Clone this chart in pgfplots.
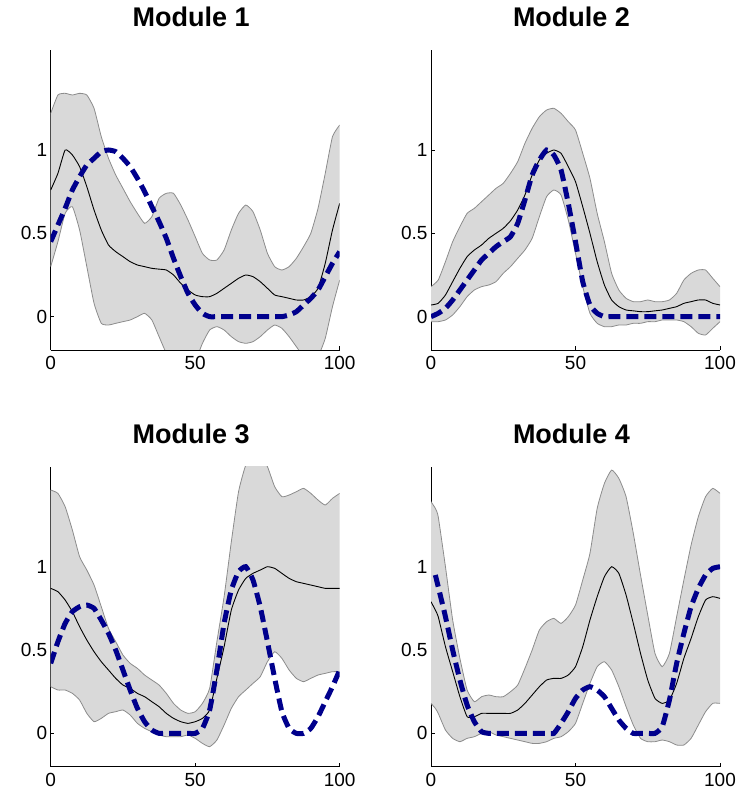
\documentclass[border=0pt]{standalone}
\usepackage{pgfplots}
\pgfplotsset{compat=1.18}
\usepackage{pgfplotstable}
\usepgfplotslibrary{fillbetween}
\usepackage{fontspec}
\setmainfont{Liberation Sans}
\definecolor{bandfill}{RGB}{217,217,217}
\definecolor{bandline}{RGB}{140,140,140}
\definecolor{synblue}{RGB}{0,0,140}

\pgfplotstableread{
x up lo mean syn
0 1.22 0.30 0.76 0.45
2.5 1.33 0.45 0.86 0.55
5 1.34 0.62 1.00 0.65
7.5 1.33 0.66 0.97 0.76
10 1.34 0.52 0.90 0.84
12.5 1.33 0.30 0.78 0.91
15 1.25 0.08 0.64 0.95
17.5 1.08 -0.04 0.52 0.99
20 0.95 -0.05 0.43 1.00
22.5 0.85 -0.04 0.39 0.99
25 0.77 -0.03 0.36 0.95
27.5 0.69 -0.02 0.33 0.90
30 0.62 0.00 0.31 0.83
32.5 0.56 0.02 0.30 0.75
35 0.60 -0.02 0.29 0.66
37.5 0.71 -0.12 0.285 0.57
40 0.74 -0.22 0.28 0.47
42.5 0.74 -0.30 0.25 0.35
45 0.67 -0.34 0.20 0.24
47.5 0.58 -0.33 0.16 0.14
50 0.48 -0.27 0.13 0.07
52.5 0.38 -0.16 0.12 0.02
55 0.34 -0.08 0.12 0.0
57.5 0.34 -0.06 0.14 0.0
60 0.40 -0.08 0.17 0.0
62.5 0.52 -0.12 0.20 0.0
65 0.62 -0.15 0.23 0.0
67.5 0.67 -0.16 0.25 0.0
70 0.63 -0.15 0.24 0.0
72.5 0.52 -0.12 0.21 0.0
75 0.38 -0.08 0.17 0.0
77.5 0.30 -0.05 0.13 0.0
80 0.28 -0.07 0.12 0.0
82.5 0.30 -0.12 0.11 0.01
85 0.35 -0.18 0.10 0.03
87.5 0.42 -0.24 0.10 0.07
90 0.50 -0.28 0.12 0.11
92.5 0.65 -0.24 0.17 0.16
95 0.86 -0.13 0.32 0.24
97.5 1.08 0.06 0.52 0.32
100 1.15 0.22 0.68 0.39
}\modA

\pgfplotstableread{
x up lo mean syn
0 0.18 -0.03 0.07 0.0
2.5 0.22 -0.03 0.08 0.02
5 0.33 -0.02 0.13 0.05
7.5 0.45 0.01 0.21 0.10
10 0.54 0.06 0.29 0.16
12.5 0.62 0.12 0.36 0.22
15 0.65 0.16 0.40 0.28
17.5 0.69 0.18 0.43 0.34
20 0.73 0.19 0.47 0.38
22.5 0.77 0.21 0.50 0.42
25 0.80 0.26 0.53 0.45
27.5 0.86 0.30 0.575 0.48
30 0.93 0.35 0.64 0.56
32.5 1.04 0.40 0.73 0.70
35 1.13 0.47 0.85 0.85
37.5 1.20 0.60 0.94 0.94
40 1.24 0.72 0.98 1.00
42.5 1.25 0.76 1.00 0.97
45 1.22 0.73 0.98 0.88
47.5 1.17 0.58 0.90 0.68
50 1.12 0.38 0.81 0.45
52.5 0.98 0.18 0.66 0.21
55 0.83 0.02 0.50 0.07
57.5 0.62 -0.04 0.33 0.02
60 0.45 -0.06 0.19 0.0
62.5 0.26 -0.06 0.10 0.0
65 0.16 -0.05 0.06 0.0
67.5 0.11 -0.05 0.04 0.0
70 0.09 -0.04 0.035 0.0
72.5 0.09 -0.04 0.03 0.0
75 0.10 -0.03 0.03 0.0
77.5 0.09 -0.03 0.035 0.0
80 0.09 -0.02 0.04 0.0
82.5 0.10 -0.02 0.05 0.0
85 0.14 -0.02 0.06 0.0
87.5 0.22 -0.03 0.08 0.0
90 0.26 -0.06 0.09 0.0
92.5 0.28 -0.10 0.10 0.0
95 0.28 -0.11 0.10 0.0
97.5 0.23 -0.07 0.08 0.0
100 0.18 -0.03 0.07 0.0
}\modB

\pgfplotstableread{
x up lo mean syn
0 1.46 0.28 0.87 0.42
2.5 1.44 0.26 0.85 0.55
5 1.36 0.26 0.80 0.66
7.5 1.22 0.24 0.73 0.73
10 1.06 0.20 0.64 0.76
12.5 0.98 0.12 0.56 0.77
15 0.89 0.07 0.49 0.75
17.5 0.76 0.09 0.43 0.68
20 0.63 0.12 0.38 0.60
22.5 0.55 0.13 0.33 0.50
25 0.47 0.14 0.29 0.38
27.5 0.42 0.11 0.27 0.26
30 0.39 0.06 0.24 0.15
32.5 0.35 0.03 0.22 0.07
35 0.32 0.01 0.19 0.02
37.5 0.29 -0.01 0.16 0.0
40 0.24 -0.02 0.12 0.0
42.5 0.18 -0.02 0.09 0.0
45 0.14 -0.02 0.07 0.0
47.5 0.12 -0.01 0.06 0.0
50 0.13 -0.03 0.07 0.0
52.5 0.18 -0.06 0.09 0.03
55 0.27 -0.08 0.14 0.14
57.5 0.55 -0.04 0.33 0.38
60 0.82 0.05 0.52 0.66
62.5 1.15 0.15 0.74 0.86
65 1.45 0.22 0.86 0.97
67.5 1.61 0.26 0.93 1.00
70 1.66 0.30 0.96 0.92
72.5 1.66 0.34 0.98 0.76
75 1.60 0.43 1.00 0.55
77.5 1.48 0.49 0.99 0.33
80 1.42 0.45 0.96 0.13
82.5 1.43 0.38 0.93 0.03
85 1.45 0.33 0.91 0.0
87.5 1.47 0.31 0.90 0.0
90 1.44 0.33 0.89 0.03
92.5 1.40 0.35 0.88 0.10
95 1.37 0.36 0.87 0.19
97.5 1.41 0.37 0.87 0.28
100 1.44 0.37 0.87 0.38
}\modC

\pgfplotstableread{
x up lo mean syn
0 1.39 0.18 0.79 nan
1.5 1.35 0.15 0.74 0.95
2.5 1.30 0.12 0.70 0.88
5 1.00 0.02 0.52 0.70
7.5 0.68 -0.03 0.37 0.50
10 0.45 -0.05 0.22 0.32
12.5 0.26 -0.03 0.10 0.17
15 0.19 -0.02 0.10 0.07
17.5 0.22 0.00 0.12 0.01
20 0.23 0.01 0.12 0.0
22.5 0.22 -0.01 0.12 0.0
25 0.22 -0.02 0.12 0.0
27.5 0.25 -0.03 0.12 0.0
30 0.29 -0.04 0.14 0.0
32.5 0.39 -0.05 0.18 0.0
35 0.50 -0.06 0.23 0.0
37.5 0.62 -0.06 0.28 0.0
40 0.67 -0.05 0.32 0.0
42.5 0.69 -0.03 0.33 0.0
45 0.66 -0.02 0.33 0.06
47.5 0.70 0.01 0.35 0.13
50 0.77 0.06 0.40 0.21
52.5 0.92 0.18 0.52 0.26
55 1.08 0.30 0.68 0.28
57.5 1.35 0.40 0.82 0.26
60 1.50 0.43 0.94 0.22
62.5 1.58 0.38 1.00 0.15
65 1.53 0.28 0.96 0.08
67.5 1.42 0.16 0.83 0.03
70 1.20 0.05 0.66 0.0
72.5 0.95 -0.03 0.48 0.0
75 0.71 -0.05 0.32 0.0
77.5 0.48 -0.05 0.21 0.0
80 0.40 -0.04 0.18 0.04
82.5 0.48 -0.05 0.20 0.20
85 0.70 -0.07 0.30 0.42
87.5 0.92 -0.07 0.45 0.60
90 1.13 -0.03 0.57 0.76
92.5 1.30 0.05 0.70 0.87
95 1.42 0.13 0.80 0.95
97.5 1.47 0.18 0.82 0.99
100 1.44 0.18 0.81 1.00
}\modD

\pgfplotsset{modstyle/.style={
  scale only axis, width=289pt, height=300pt,
  xmin=0, xmax=100, ymin=-0.2, ymax=1.6,
  axis lines*=left,
  xtick={0,50,100}, ytick={0,0.5,1},
  tick align=inside, major tick length=3.5pt,
  tick style={black, line width=0.6pt},
  axis line style={black, line width=0.8pt},
  tick label style={font=\fontsize{19}{22}\selectfont},
  /pgf/number format/assume math mode=true,
  xticklabel style={yshift=-3pt},
  title style={font=\fontsize{27}{30}\selectfont\bfseries, at={(0.5,1)}, anchor=base, yshift=17.6pt, xshift=-4pt},
  no markers,
  anchor=south west,
}}

\begin{document}
\begin{tikzpicture}
\path (0,0) rectangle (740pt,801pt);
\begin{axis}[modstyle, at={(50.7pt,451pt)}, title={Module 1}]
  \addplot[draw=none, smooth, tension=0.3, name path=U] table[x=x,y=up]{\modA};
  \addplot[draw=none, smooth, tension=0.3, name path=L] table[x=x,y=lo]{\modA};
  \addplot[bandfill, draw=none] fill between[of=U and L];
  \addplot[bandline, line width=0.8pt, smooth, tension=0.3] table[x=x,y=up]{\modA};
  \addplot[bandline, line width=0.8pt, smooth, tension=0.3] table[x=x,y=lo]{\modA};
  \addplot[black, line width=0.9pt, smooth, tension=0.3] table[x=x,y=mean]{\modA};
  \addplot[synblue, line width=5pt, smooth, tension=0.3, dash pattern=on 12pt off 6pt] table[x=x,y=syn]{\modA};
\end{axis}
\begin{axis}[modstyle, at={(431pt,451pt)}, title={Module 2}]
  \addplot[draw=none, smooth, tension=0.3, name path=U] table[x=x,y=up]{\modB};
  \addplot[draw=none, smooth, tension=0.3, name path=L] table[x=x,y=lo]{\modB};
  \addplot[bandfill, draw=none] fill between[of=U and L];
  \addplot[bandline, line width=0.8pt, smooth, tension=0.3] table[x=x,y=up]{\modB};
  \addplot[bandline, line width=0.8pt, smooth, tension=0.3] table[x=x,y=lo]{\modB};
  \addplot[black, line width=0.9pt, smooth, tension=0.3] table[x=x,y=mean]{\modB};
  \addplot[synblue, line width=5pt, smooth, tension=0.3, dash pattern=on 12pt off 6pt] table[x=x,y=syn]{\modB};
\end{axis}
\begin{axis}[modstyle, at={(50.7pt,34.3pt)}, title={Module 3}]
  \addplot[draw=none, smooth, tension=0.3, name path=U] table[x=x,y=up]{\modC};
  \addplot[draw=none, smooth, tension=0.3, name path=L] table[x=x,y=lo]{\modC};
  \addplot[bandfill, draw=none] fill between[of=U and L];
  \addplot[bandline, line width=0.8pt, smooth, tension=0.3] table[x=x,y=up]{\modC};
  \addplot[bandline, line width=0.8pt, smooth, tension=0.3] table[x=x,y=lo]{\modC};
  \addplot[black, line width=0.9pt, smooth, tension=0.3] table[x=x,y=mean]{\modC};
  \addplot[synblue, line width=5pt, smooth, tension=0.3, dash pattern=on 12pt off 6pt] table[x=x,y=syn]{\modC};
\end{axis}
\begin{axis}[modstyle, at={(431pt,34.3pt)}, title={Module 4}]
  \addplot[draw=none, smooth, tension=0.3, name path=U] table[x=x,y=up]{\modD};
  \addplot[draw=none, smooth, tension=0.3, name path=L] table[x=x,y=lo]{\modD};
  \addplot[bandfill, draw=none] fill between[of=U and L];
  \addplot[bandline, line width=0.8pt, smooth, tension=0.3] table[x=x,y=up]{\modD};
  \addplot[bandline, line width=0.8pt, smooth, tension=0.3] table[x=x,y=lo]{\modD};
  \addplot[black, line width=0.9pt, smooth, tension=0.3] table[x=x,y=mean]{\modD};
  \addplot[synblue, line width=5pt, smooth, tension=0.3, dash pattern=on 12pt off 6pt] table[x=x,y=syn]{\modD};
\end{axis}
\end{tikzpicture}
\end{document}
